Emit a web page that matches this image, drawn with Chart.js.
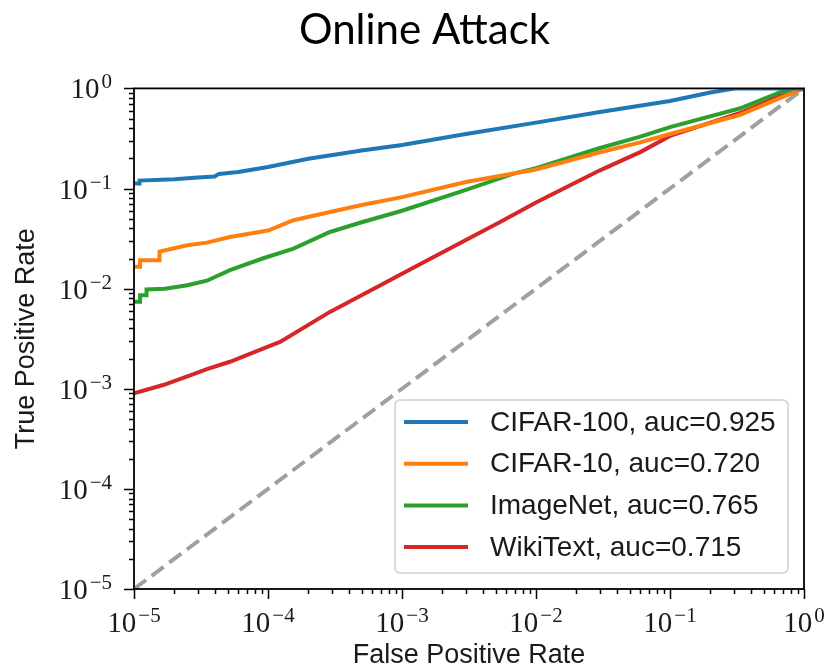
<!DOCTYPE html>
<html>
<head>
<meta charset="utf-8">
<script src="https://cdn.jsdelivr.net/npm/chart.js@4.4.1/dist/chart.umd.min.js"></script>
<style>
  html, body { margin: 0; padding: 0; background: #fff; }
</style>
</head>
<body>
<canvas id="roc" width="828" height="672"></canvas>
<script>
// --- データ (ROC曲線, 目盛り) ---
const seriesLabels = [
  "CIFAR-100, auc=0.925",
  "CIFAR-10, auc=0.720",
  "ImageNet, auc=0.765",
  "WikiText, auc=0.715"
];
const seriesColors = ["#1f77b4", "#ff7f0e", "#2ca02c", "#d62728"];

const cifar100Fpr = [1e-5, 1.1e-5, 1.1e-5, 2e-5, 3e-5, 4e-5, 4.3e-5, 6e-5, 1e-4, 2e-4, 5e-4, 1e-3, 3e-3, 1e-2, 3e-2, 1e-1, 2e-1, 3.1e-1, 1];
const cifar100Tpr = [0.112, 0.112, 0.120, 0.124, 0.129, 0.132, 0.140, 0.146, 0.164, 0.198, 0.240, 0.272, 0.35, 0.455, 0.58, 0.75, 0.91, 1.0, 1.0];

const cifar10Fpr = [1e-5, 1.11e-5, 1.11e-5, 1.55e-5, 1.55e-5, 2.5e-5, 3.5e-5, 5.2e-5, 1e-4, 1.55e-4, 2.9e-4, 5e-4, 1e-3, 3e-3, 6.8e-3, 1e-2, 3e-2, 6e-2, 1e-1, 3.3e-1, 6.6e-1, 1];
const cifar10Tpr = [0.0165, 0.0165, 0.0192, 0.0192, 0.0235, 0.0271, 0.0288, 0.0328, 0.038, 0.0482, 0.0583, 0.0685, 0.082, 0.116, 0.141, 0.155, 0.23, 0.289, 0.35, 0.54, 0.80, 1];

const imagenetFpr = [1e-5, 1.11e-5, 1.11e-5, 1.24e-5, 1.24e-5, 1.7e-5, 2.5e-5, 3.5e-5, 5.2e-5, 9.1e-5, 1.55e-4, 2.9e-4, 5e-4, 1e-3, 3e-3, 6.8e-3, 1e-2, 3e-2, 6e-2, 1e-1, 3.3e-1, 6.6e-1, 1];
const imagenetTpr = [0.0074, 0.0074, 0.0086, 0.0086, 0.0098, 0.0100, 0.0108, 0.0120, 0.0153, 0.020, 0.0251, 0.0368, 0.046, 0.060, 0.097, 0.141, 0.16, 0.254, 0.33, 0.41, 0.63, 0.91, 1];

const wikitextFpr = [1e-5, 1.65e-5, 2.95e-5, 3.5e-5, 5.2e-5, 1e-4, 1.23e-4, 2.9e-4, 6.9e-4, 1e-3, 1.6e-3, 5.4e-3, 1e-2, 3e-2, 6e-2, 1e-1, 3.3e-1, 6.6e-1, 1];
const wikitextTpr = [0.0009, 0.00109, 0.00144, 0.00157, 0.00186, 0.00264, 0.00294, 0.00586, 0.0108, 0.0141, 0.0197, 0.0463, 0.0725, 0.152, 0.231, 0.335, 0.565, 0.84, 1];

const chanceFpr = [1e-5, 1];
const chanceTpr = [1e-5, 1];

const tickExps = [-5, -4, -3, -2, -1, 0];
const minorMults = [2, 3, 4, 5, 6, 7, 8, 9];

const toPoints = (xs, ys) => xs.map((x, i) => ({ x, y: ys[i] }));

// --- 枠と目盛り (自前で描画) ---
const SERIF = "'Liberation Serif', 'DejaVu Serif', serif";
const SANS = "'Liberation Sans', Arial, sans-serif";

function drawPow(ctx, exp, x, baseY, align) {
  const base = "10";
  const sup = exp < 0 ? "\u2212" + Math.abs(exp) : String(exp);
  ctx.font = `29px ${SERIF}`;
  const wb = ctx.measureText(base).width;
  ctx.font = `21px ${SERIF}`;
  const ws = ctx.measureText(sup).width;
  const total = wb + 2 + ws;
  let x0 = align === "right" ? x - total : x - total / 2;
  ctx.textAlign = "left";
  ctx.textBaseline = "alphabetic";
  ctx.font = `29px ${SERIF}`;
  ctx.fillText(base, x0, baseY);
  ctx.font = `21px ${SERIF}`;
  ctx.fillText(sup, x0 + wb + 2, baseY - 10);
}

const frameAndTicks = {
  id: "frameAndTicks",
  afterDraw(chart) {
    const { ctx, chartArea: a, scales } = chart;
    const xs = scales.x, ys = scales.y;
    ctx.save();
    ctx.strokeStyle = "#000";
    ctx.fillStyle = "#1a1a1a";
    ctx.lineWidth = 1.5;

    for (const e of tickExps) {
      const vals = [{ v: Math.pow(10, e), len: 10 }];
      if (e < 0) minorMults.forEach(m => vals.push({ v: m * Math.pow(10, e), len: 5 }));
      for (const t of vals) {
        const px = Math.round(xs.getPixelForValue(t.v)) + 0.5;
        const py = Math.round(ys.getPixelForValue(t.v)) + 0.5;
        ctx.beginPath();
        ctx.moveTo(px, a.bottom);
        ctx.lineTo(px, a.bottom + t.len);
        ctx.moveTo(a.left, py);
        ctx.lineTo(a.left - t.len, py);
        ctx.stroke();
      }
      drawPow(ctx, e, xs.getPixelForValue(Math.pow(10, e)), a.bottom + 43, "center");
      drawPow(ctx, e, a.left - 22, ys.getPixelForValue(Math.pow(10, e)) + 10, "right");
    }

    ctx.lineWidth = 1.8;
    ctx.strokeRect(a.left, a.top, a.right - a.left, a.bottom - a.top);
    ctx.restore();
  }
};

// --- 凡例 (プロット内の右下) ---
const insideLegend = {
  id: "insideLegend",
  afterDraw(chart) {
    const { ctx, chartArea: a } = chart;
    const w = 393, h = 173;
    const x0 = a.right - 16 - w, y0 = a.bottom - 16 - h;
    ctx.save();
    ctx.beginPath();
    ctx.roundRect(x0, y0, w, h, 5);
    ctx.fillStyle = "rgba(255,255,255,0.85)";
    ctx.fill();
    ctx.strokeStyle = "#d0d0d0";
    ctx.lineWidth = 1.5;
    ctx.stroke();

    ctx.font = `28px ${SANS}`;
    ctx.textAlign = "left";
    ctx.textBaseline = "middle";
    chart.data.datasets.forEach((ds, i) => {
      if (!ds.inLegend) return;
      const cy = y0 + 22 + i * 41.7;
      ctx.strokeStyle = ds.borderColor;
      ctx.lineWidth = 4;
      ctx.beginPath();
      ctx.moveTo(x0 + 9, cy);
      ctx.lineTo(x0 + 73, cy);
      ctx.stroke();
      ctx.fillStyle = "#1a1a1a";
      ctx.fillText(ds.label, x0 + 95, cy + 1);
    });
    ctx.restore();
  }
};

const curves = [
  [cifar100Fpr, cifar100Tpr],
  [cifar10Fpr, cifar10Tpr],
  [imagenetFpr, imagenetTpr],
  [wikitextFpr, wikitextTpr]
];

const datasets = curves.map(([fx, ty], i) => ({
  label: seriesLabels[i],
  inLegend: true,
  data: toPoints(fx, ty),
  borderColor: seriesColors[i],
  borderWidth: 4,
  pointRadius: 0,
  tension: 0,
  fill: false
}));

datasets.push({
  label: "chance",
  inLegend: false,
  data: toPoints(chanceFpr, chanceTpr),
  borderColor: "#a0a0a0",
  borderWidth: 4,
  borderDash: [15, 7],
  pointRadius: 0,
  fill: false
});

new Chart(document.getElementById("roc"), {
  type: "line",
  data: { datasets },
  options: {
    responsive: false,
    animation: false,
    layout: { padding: { left: 45, right: 24, top: 0, bottom: 0 } },
    plugins: {
      legend: { display: false },
      tooltip: { enabled: false },
      title: {
        display: true,
        text: "Online Attack",
        color: "#000",
        font: { family: "Lato", size: 42, weight: "normal", lineHeight: 1.2 },
        padding: { top: 5, bottom: 33 }
      }
    },
    scales: {
      x: {
        type: "logarithmic",
        min: 1e-5,
        max: 1,
        ticks: { display: false },
        grid: { display: false },
        border: { display: false },
        title: {
          display: true,
          text: "False Positive Rate",
          color: "#1a1a1a",
          font: { family: "Liberation Sans", size: 27, lineHeight: 1.2 },
          padding: { top: 0, bottom: 0 }
        },
        afterFit: s => { s.height = 83; }
      },
      y: {
        type: "logarithmic",
        min: 1e-5,
        max: 1,
        ticks: { display: false },
        grid: { display: false },
        border: { display: false },
        title: {
          display: true,
          text: "True Positive Rate",
          color: "#1a1a1a",
          font: { family: "Liberation Sans", size: 27, lineHeight: 1.2 },
          padding: { top: -35, bottom: 0 }
        },
        afterFit: s => { s.width = 89; }
      }
    }
  },
  plugins: [frameAndTicks, insideLegend]
});
</script>
</body>
</html>
